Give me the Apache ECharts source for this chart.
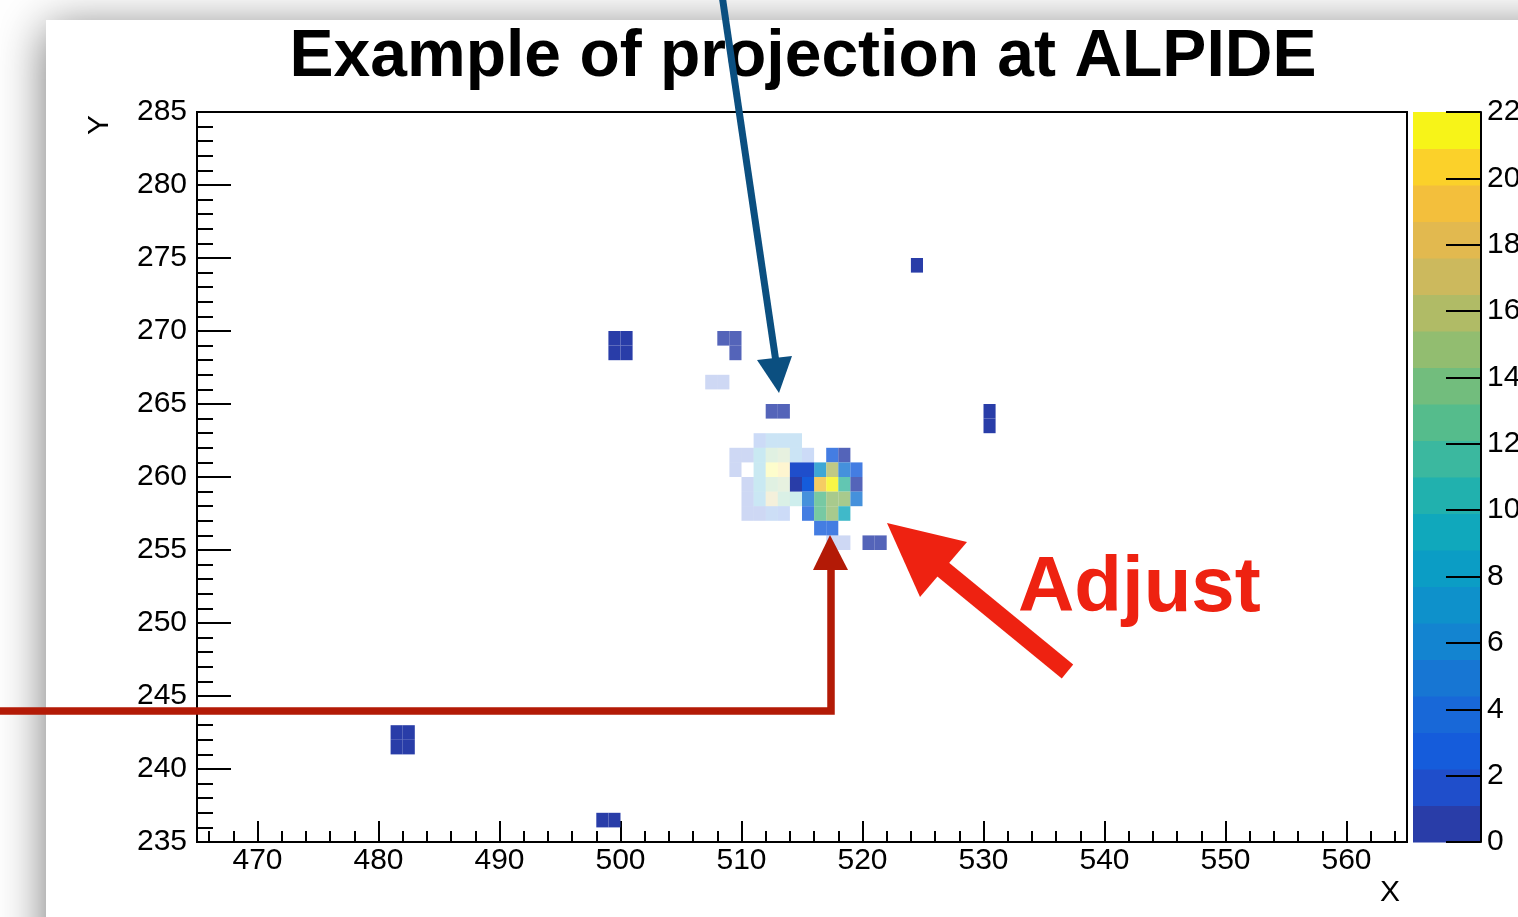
<!DOCTYPE html>
<html>
<head>
<meta charset="utf-8">
<script src="https://cdn.jsdelivr.net/npm/echarts@6/dist/echarts.min.js"></script>
<style>
  html, body { margin: 0; padding: 0; background: #fff; }
  #main { width: 1518px; height: 917px; }
</style>
</head>
<body>
<div id="main"></div>
<script>
// axis tick labels
const xLabels = [470, 480, 490, 500, 510, 520, 530, 540, 550, 560];
const zLabels = [0, 2, 4, 6, 8, 10, 12, 14, 16, 18, 20, 22];

// colour palette of the z axis, 20 contours from 0 to 22 (bottom to top)
const palette = [
    '#293da8', '#1f4ecb', '#155cdb', '#1868d8', '#1776d3', '#1384d0', '#0e91cb', '#0b9dc5',
    '#10a8bc', '#21b1ae', '#3bb89f', '#55bc8c', '#72bd7d', '#92bd70', '#b0bb66', '#ccb95d',
    '#e2b94f', '#f3bf3c', '#fbd12a', '#f7f418'
];

// histogram cells [x bin, y bin, content]
// drawn fully opaque
const solidCells = [
    [514, 260, 2], [515, 260, 2], [514, 259, 1], [515, 259, 3],
    [499, 269, 1], [500, 269, 1], [499, 268, 1], [500, 268, 1],
    [524, 274, 1], [530, 264, 1], [530, 263, 1],
    [481, 242, 1], [482, 242, 1], [481, 241, 1], [482, 241, 1],
    [498, 236, 1], [499, 236, 1]
];
// drawn with a little transparency
const mainCells = [
    [517, 261, 3], [518, 261, 1],
    [516, 260, 7], [517, 260, 16], [518, 260, 5], [519, 260, 3],
    [516, 259, 19], [517, 259, 22], [518, 259, 12], [519, 259, 1],
    [515, 258, 5], [516, 258, 13], [517, 258, 15], [518, 258, 15], [519, 258, 5],
    [515, 257, 3], [516, 257, 13], [517, 257, 15], [518, 257, 9],
    [516, 256, 3], [517, 256, 3],
    [520, 255, 1], [521, 255, 1],
    [512, 264, 1], [513, 264, 1],
    [508, 269, 1], [509, 269, 1], [509, 268, 1]
];
// faint overlay
const faintCells = [
    [511, 262, 3], [512, 262, 6], [513, 262, 6], [514, 262, 6],
    [509, 261, 2], [510, 261, 2], [511, 261, 8], [512, 261, 14], [513, 261, 15], [514, 261, 6], [515, 261, 3],
    [509, 260, 2], [511, 260, 8], [512, 260, 22], [513, 260, 20],
    [510, 259, 2], [511, 259, 8], [512, 259, 14], [513, 259, 15],
    [510, 258, 2], [511, 258, 7], [512, 258, 17], [513, 258, 13], [514, 258, 10],
    [510, 257, 2], [511, 257, 2], [512, 257, 4], [513, 257, 3],
    [507, 266, 2], [508, 266, 2],
    [517, 255, 2], [518, 255, 2]
];

const zMax = 22;
const step = zMax / palette.length;
const pieces = palette.map((c, i) => i === palette.length - 1
    ? { gte: i * step, lte: zMax + 1, color: c }
    : { gte: i * step, lt: (i + 1) * step, color: c });
const bands = palette.map((c, i) => [0, i * step, (i + 1) * step, (i + 0.5) * step]);

const xMinor = [];
for (let v = 466; v < 565; v += 2) if (v % 10 !== 0) xMinor.push(v);

const FONT = 'Liberation Sans, Arial, sans-serif';

function cellItem(opacity) {
    return function (params, api) {
        const x = api.value(0), y = api.value(1);
        const a = api.coord([x, y + 1]);
        const b = api.coord([x + 1, y]);
        return {
            type: 'rect',
            shape: { x: a[0], y: a[1], width: b[0] - a[0], height: b[1] - a[1] },
            style: { fill: api.visual('color'), opacity: opacity }
        };
    };
}

function initChart() {
    const chart = echarts.init(document.getElementById('main'));
    chart.setOption({
        animation: false,
        grid: [
            { left: 197, top: 112, width: 1210, height: 730, outerBoundsMode: 'none', show: true, borderColor: '#000', borderWidth: 2, backgroundColor: 'transparent' },
            { left: 1413, top: 112, width: 68, height: 730, outerBoundsMode: 'none' },
            // strip holding the palette ticks
            { left: 1446, top: 112, width: 35, height: 730, outerBoundsMode: 'none' }
        ],
        xAxis: [
            {
                gridIndex: 0, type: 'value', min: 465, max: 565, position: 'bottom',
                axisLine: { onZero: false, lineStyle: { color: '#000', width: 2 } },
                axisTick: { inside: true, length: 21, customValues: xLabels, lineStyle: { color: '#000', width: 2 } },
                axisLabel: { customValues: xLabels, color: '#000', fontSize: 30, fontFamily: FONT, margin: 4 },
                splitLine: { show: false }
            },
            {
                gridIndex: 0, type: 'value', min: 465, max: 565, position: 'bottom',
                axisLine: { show: false, onZero: false },
                axisTick: { inside: true, length: 11, customValues: xMinor, lineStyle: { color: '#000', width: 2 } },
                axisLabel: { show: false },
                splitLine: { show: false }
            },
            { gridIndex: 1, type: 'value', min: 0, max: 1, show: false },
            { gridIndex: 2, type: 'value', min: 0, max: 1, show: false }
        ],
        yAxis: [
            {
                gridIndex: 0, type: 'value', min: 235, max: 285, interval: 5,
                axisLine: { onZero: false, lineStyle: { color: '#000', width: 2 } },
                axisTick: { inside: true, length: 34, lineStyle: { color: '#000', width: 2 } },
                minorTick: { show: true, splitNumber: 5, length: 16, lineStyle: { color: '#000', width: 2 } },
                axisLabel: { color: '#000', fontSize: 30, fontFamily: FONT, margin: 10, showMinLabel: true, showMaxLabel: true },
                splitLine: { show: false }
            },
            {
                gridIndex: 1, type: 'value', min: 0, max: zMax, interval: 2, position: 'right', z: 10,
                axisLine: { onZero: false, lineStyle: { color: '#000', width: 2 } },
                axisTick: { show: false },
                axisLabel: { color: '#000', fontSize: 30, fontFamily: FONT, margin: 6, showMinLabel: true, showMaxLabel: true },
                splitLine: { show: false }
            },
            {
                gridIndex: 2, type: 'value', min: 0, max: zMax, interval: 2, z: 10,
                axisLine: { show: false }, axisTick: { show: false }, axisLabel: { show: false },
                splitLine: { show: true, lineStyle: { color: '#000', width: 2 } }
            }
        ],
        visualMap: [
            { type: 'piecewise', show: false, seriesIndex: [0, 1, 2], dimension: 2, pieces: pieces },
            { type: 'piecewise', show: false, seriesIndex: 3, dimension: 3, pieces: pieces }
        ],
        series: [
            { type: 'custom', xAxisIndex: 0, yAxisIndex: 0, encode: { x: 0, y: 1 }, renderItem: cellItem(0.22), data: faintCells, z: 1 },
            { type: 'custom', xAxisIndex: 0, yAxisIndex: 0, encode: { x: 0, y: 1 }, renderItem: cellItem(0.8), data: mainCells, z: 2 },
            { type: 'custom', xAxisIndex: 0, yAxisIndex: 0, encode: { x: 0, y: 1 }, renderItem: cellItem(1), data: solidCells, z: 3 },
            {
                type: 'custom', xAxisIndex: 2, yAxisIndex: 1, encode: { x: 0, y: 1 }, data: bands, z: -5,
                renderItem: function (params, api) {
                    const a = api.coord([0, api.value(2)]);
                    const b = api.coord([1, api.value(1)]);
                    return {
                        type: 'rect',
                        shape: { x: a[0], y: a[1], width: b[0] - a[0], height: b[1] - a[1] + 0.5 },
                        style: { fill: api.visual('color') }
                    };
                }
            }
        ],
        graphic: [
            // canvas sheet with window shadow
            {
                type: 'rect', z: -100, silent: true,
                shape: { x: 46, y: 20, width: 1600, height: 1000 },
                style: { fill: '#fff', shadowBlur: 45, shadowColor: 'rgba(0,0,0,0.55)', shadowOffsetY: 8 }
            },
            {
                type: 'text', x: 803, y: 58, z: 50,
                style: { text: 'Example of projection at ALPIDE', fill: '#000', font: 'bold 66px ' + FONT, align: 'center', verticalAlign: 'middle' }
            },
            {
                type: 'text', x: 1390, y: 893, z: 50,
                style: { text: 'X', fill: '#000', font: '30px ' + FONT, align: 'center', verticalAlign: 'middle' }
            },
            {
                type: 'text', x: 100, y: 125, rotation: Math.PI / 2, z: 50,
                style: { text: 'Y', fill: '#000', font: '30px ' + FONT, align: 'center', verticalAlign: 'middle' }
            },
            // dark blue pointer
            {
                type: 'line', z: 100,
                shape: { x1: 722, y1: -5, x2: 776, y2: 362 },
                style: { stroke: '#0b4f80', lineWidth: 7 }
            },
            {
                type: 'polygon', z: 100,
                shape: { points: [[757, 360], [792, 356], [779, 393]] },
                style: { fill: '#0b4f80' }
            },
            // dark red bracket
            {
                type: 'polyline', z: 100,
                shape: { points: [[-5, 711], [831, 711], [831, 566]] },
                style: { stroke: '#b31a06', lineWidth: 7.5, lineJoin: 'miter' }
            },
            {
                type: 'polygon', z: 100,
                shape: { points: [[813, 570], [848, 570], [830, 535]] },
                style: { fill: '#b31a06' }
            },
            // big red arrow
            {
                type: 'line', z: 100,
                shape: { x1: 1067.5, y1: 671.5, x2: 940, y2: 567 },
                style: { stroke: '#ee2211', lineWidth: 18, lineCap: 'butt' }
            },
            {
                type: 'polygon', z: 100,
                shape: { points: [[887, 523], [967, 542], [920, 597]] },
                style: { fill: '#ee2211' }
            },
            {
                type: 'text', x: 1018, y: 589, z: 100,
                style: { text: 'Adjust', fill: '#ee2211', font: 'bold 78px ' + FONT, align: 'left', verticalAlign: 'middle' }
            }
        ]
    });
    return chart;
}

document.addEventListener('DOMContentLoaded', initChart);
</script>
</body>
</html>
